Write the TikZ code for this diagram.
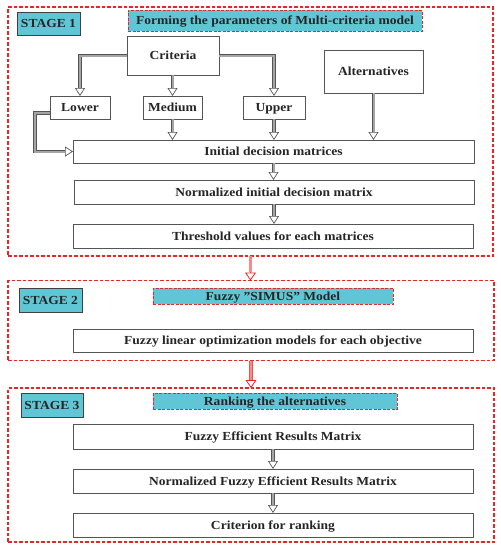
\documentclass[tikz,border=0pt]{standalone}
\usepackage{fontspec}
\setmainfont[FakeStretch=1.1]{Liberation Serif}
\usetikzlibrary{arrows.meta,calc}
\definecolor{cyanfill}{RGB}{96,198,214}
\definecolor{framered}{RGB}{238,36,36}
\definecolor{boxgray}{RGB}{85,85,85}
\definecolor{shaftgray}{RGB}{165,165,165}
\definecolor{pinkshaft}{RGB}{245,140,140}
\begin{document}
\begin{tikzpicture}[x=1pt,y=-1pt,
  every node/.style={inner sep=0pt, outer sep=0pt, text height=8pt, text depth=0pt, font=\bfseries\fontsize{12.3}{14}\selectfont, text=black!85},
  box/.style={draw=boxgray, line width=0.8pt, fill=white},
  stagelab/.style={draw=black!75, line width=1pt, fill=cyanfill},
  titlebox/.style={draw=framered, line width=1pt, dash pattern=on 3pt off 1.5pt, fill=cyanfill},
  frame/.style={draw=framered, line width=1.1pt, dash pattern=on 3.5pt off 2pt},
  conn/.style={draw=boxgray, line width=0.5pt, -{Triangle[open, fill=white, length=8pt, width=10pt, line width=0.7pt]},
    postaction={draw=boxgray, -, line width=0.7pt, double=shaftgray, double distance=2pt, shorten >=8.3pt}},
  redconn/.style={draw=framered, line width=0.5pt, -{Triangle[open, fill=white, length=8pt, width=11pt, line width=0.8pt]},
    postaction={draw=framered!80, -, line width=0.5pt, double=pinkshaft, double distance=2.6pt, shorten >=8.3pt}}
]
\useasboundingbox (0,0) rectangle (501,550);
% frames
\node[frame, minimum width=485, minimum height=249] (s1) at (250.5,131.5) {};
\node[frame, minimum width=486, minimum height=80] (s2) at (251,320.5) {};
\node[frame, minimum width=486, minimum height=154] (s3) at (251,465) {};
% stage 1
\node[stagelab, minimum width=63, minimum height=23] (s1lab) at (48.5,23.5) {STAGE 1};
\node[titlebox, minimum width=294, minimum height=21] (s1title) at (275,20.5) {Forming the parameters of Multi-criteria model};
\node[box, minimum width=92, minimum height=39] (crit) at (173,55.5) {Criteria};
\node[box, minimum width=60, minimum height=23] (lower) at (80,107.5) {Lower};
\node[box, minimum width=59, minimum height=23] (medium) at (172.5,107.5) {Medium};
\node[box, minimum width=62, minimum height=23] (upper) at (274,107.5) {Upper};
\node[box, minimum width=99, minimum height=43] (alt) at (373.5,71.5) {Alternatives};
\node[box, minimum width=401, minimum height=23] (init) at (273.5,151.5) {Initial decision matrices};
\node[box, minimum width=400, minimum height=24] (norm) at (274,192) {Normalized initial decision matrix};
\node[box, minimum width=400, minimum height=24] (thr) at (273,236) {Threshold values for each matrices};
% stage 2
\node[stagelab, minimum width=63, minimum height=24] (s2lab) at (50.5,300) {STAGE 2};
\node[titlebox, minimum width=240, minimum height=16] (s2title) at (273,296) {Fuzzy \symbol{34}SIMUS\symbol{34} Model};
\node[box, minimum width=400, minimum height=23] (flin) at (273,340.5) {Fuzzy linear optimization models for each objective};
% stage 3
\node[stagelab, minimum width=62, minimum height=24] (s3lab) at (52,405) {STAGE 3};
\node[titlebox, minimum width=244, minimum height=16] (s3title) at (275,401) {Ranking the alternatives};
\node[box, minimum width=400, minimum height=25] (fer) at (273,436.5) {Fuzzy Efficient Results Matrix};
\node[box, minimum width=400, minimum height=24] (nfer) at (273,481) {Normalized Fuzzy Efficient Results Matrix};
\node[box, minimum width=400, minimum height=24] (crank) at (273,525) {Criterion for ranking};
% connectors
\coordinate (bend) at (35,113);
\draw[conn] (crit.west) -| (lower.north);
\draw[conn] (crit.east) -| (upper.north);
\draw[conn] (medium.north |- crit.south) -- (medium.north);
\draw[conn] (lower.west |- bend) -- (bend) |- (init.west);
\draw[conn] (medium.south) -- (medium.south |- init.north);
\draw[conn] (upper.south) -- (upper.south |- init.north);
\draw[conn] (alt.south) -- (alt.south |- init.north);
\draw[conn] (init.south) -- (init.south |- norm.north);
\draw[conn] (norm.south) -- (norm.south |- thr.north);
\draw[conn] (fer.south) -- (fer.south |- nfer.north);
\draw[conn] (nfer.south) -- (nfer.south |- crank.north);
\draw[redconn] (s1.south) -- (s1.south |- s2.north);
\draw[redconn] (s2.south) -- (s2.south |- s3.north);
\end{tikzpicture}
\end{document}
